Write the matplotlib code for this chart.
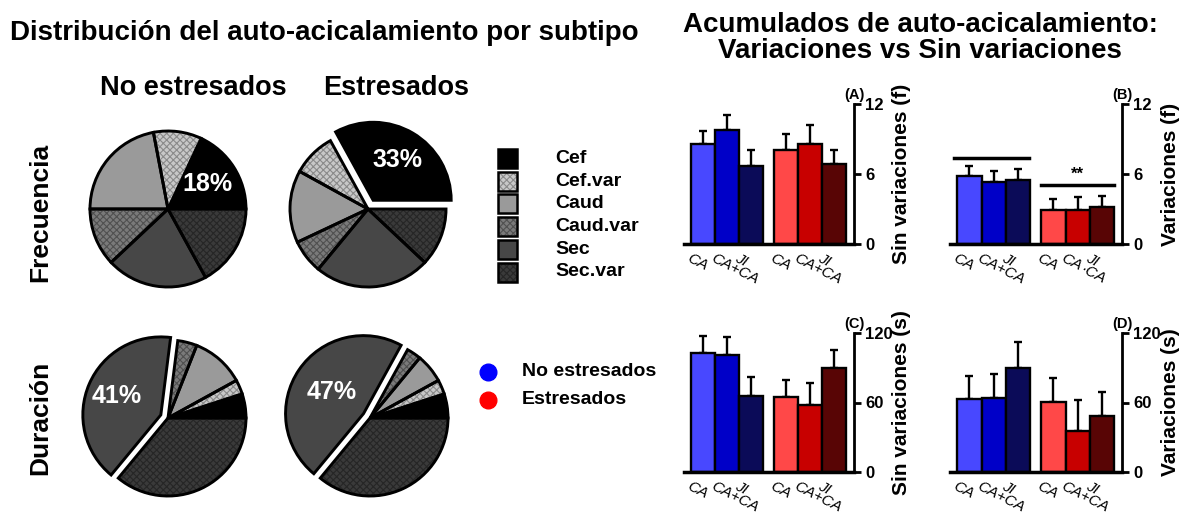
import numpy as np
import matplotlib
matplotlib.use("Agg")
import matplotlib.pyplot as plt
from matplotlib.patches import Wedge, Rectangle
from matplotlib.transforms import ScaledTranslation

plt.rcParams['font.family'] = ['Liberation Sans', 'DejaVu Sans']
plt.rcParams['hatch.linewidth'] = 0.8

# Subtipos de auto-acicalamiento
subtipos = ["Cef", "Cef.var", "Caud", "Caud.var", "Sec", "Sec.var"]
colores = ["#000000", "#c8c8c8", "#9a9a9a", "#7a7a7a", "#474747", "#3a3a3a"]
tramas = [None, "xxxxx", None, "xxxxx", None, "xxxxx"]
color_trama = [None, "#8a8a8a", None, "#505050", None, "#262626"]

# Porcentajes (%) por subtipo
frec_no_estresados = [18, 10, 22, 12, 21, 17]
frec_estresados = [33, 9, 15, 7, 24, 12]
dur_no_estresados = [5, 3, 11, 4, 41, 36]
dur_estresados = [5, 3, 6, 3, 47, 36]

# Acumulados: CA, CA+CA, JI  (media y error)
etiquetas = ["CA", "CA+CA", "JI"]
frec_sin_ne = [8.6, 9.8, 6.7]
frec_sin_ne_err = [1.1, 1.3, 1.4]
frec_sin_e = [8.1, 8.6, 6.9]
frec_sin_e_err = [1.3, 1.6, 1.2]
frec_var_ne = [5.8, 5.3, 5.5]
frec_var_ne_err = [0.9, 1.0, 0.9]
frec_var_e = [2.9, 2.9, 3.2]
frec_var_e_err = [1.0, 1.1, 0.9]
dur_sin_ne = [102.7, 101.3, 65.3]
dur_sin_ne_err = [14.4, 15.3, 16.4]
dur_sin_e = [64.4, 57.9, 89.8]
dur_sin_e_err = [15.3, 19.0, 15.2]
dur_var_ne = [63.0, 64.2, 89.8]
dur_var_ne_err = [19.6, 20.7, 22.1]
dur_var_e = [60.1, 35.7, 48.0]
dur_var_e_err = [20.7, 26.1, 20.7]

azules = ["#4848ff", "#0000c8", "#0b0b58"]
rojos = ["#ff4848", "#c80000", "#580505"]

W, H = 1186, 514
fig = plt.figure(figsize=(W / 100, H / 100), dpi=100)


def caja(x0, y0, ancho, alto):
    # caja en pixeles (origen arriba a la izquierda) -> fraccion de figura
    return [x0 / W, 1 - (y0 + alto) / H, ancho / W, alto / H]


def pastel(cx, cy, valores, idx, sep, r_txt):
    R = 78
    lado = 2.6 * R
    ax = fig.add_axes(caja(cx - lado / 2, cy - lado / 2, lado, lado))
    explode = [sep if i == idx else 0 for i in range(len(valores))]
    wedges, _ = ax.pie(valores, colors=colores, explode=explode, startangle=0,
                       counterclock=True, wedgeprops=dict(linewidth=0))
    for w, tr, tc in zip(wedges, tramas, color_trama):
        if tr:
            ax.add_patch(Wedge(w.center, w.r, w.theta1, w.theta2, facecolor="none",
                               edgecolor=tc, hatch=tr, linewidth=0))
        ax.add_patch(Wedge(w.center, w.r, w.theta1, w.theta2, facecolor="none",
                           edgecolor="black", linewidth=2.1))
    w = wedges[idx]
    ang = np.radians((w.theta1 + w.theta2) / 2)
    ax.text(w.center[0] + r_txt * np.cos(ang), w.center[1] + r_txt * np.sin(ang),
            "%d%%" % valores[idx], color="white", fontsize=18, fontweight="bold",
            ha="center", va="center")
    ax.set_xlim(-1.3, 1.3)
    ax.set_ylim(-1.3, 1.3)
    ax.set_aspect("equal")
    ax.axis("off")


pastel(168, 209, frec_no_estresados, 0, 0, 0.6)
pastel(368, 209, frec_estresados, 0, 0.13, 0.6)
pastel(168, 418, dur_no_estresados, 4, 0.1, 0.62)
pastel(370, 418, dur_estresados, 4, 0.1, 0.5)

# textos generales
fig.text(10 / W, 1 - 33 / H, "Distribución del auto-acicalamiento por subtipo",
         fontsize=20, fontweight="bold", ha="left", va="center")
fig.text(193 / W, 1 - 88 / H, "No estresados", fontsize=19.5, fontweight="bold",
         ha="center", va="center")
fig.text(396 / W, 1 - 88 / H, "Estresados", fontsize=19.5, fontweight="bold",
         ha="center", va="center")
fig.text(40 / W, 1 - 212 / H, "Frecuencia", fontsize=19, fontweight="bold",
         rotation=90, ha="center", va="center")
fig.text(40 / W, 1 - 418 / H, "Duración", fontsize=19, fontweight="bold",
         rotation=90, ha="center", va="center")
fig.text(920 / W, 1 - 38 / H, "Acumulados de auto-acicalamiento:\nVariaciones vs Sin variaciones",
         fontsize=20, fontweight="bold", ha="center", va="center", linespacing=1.05)

# leyendas
leg = fig.add_axes([0, 0, 1, 1])
leg.set_xlim(0, W)
leg.set_ylim(H, 0)
leg.axis("off")
for i, (nom, c, tr, tc) in enumerate(zip(subtipos, colores, tramas, color_trama)):
    y = 158.5 + i * 22.7
    leg.add_patch(Rectangle((498, y - 9.5), 19, 19, facecolor=c, edgecolor="none"))
    if tr:
        leg.add_patch(Rectangle((498, y - 9.5), 19, 19, facecolor="none", edgecolor=tc,
                                hatch=tr, linewidth=0))
    leg.add_patch(Rectangle((498, y - 9.5), 19, 19, facecolor="none", edgecolor="black",
                            linewidth=1.8))
    leg.text(555, y, nom, fontsize=14, fontweight="bold", va="center", ha="left")

for y, c, nom in [(372, "#0000ff", "No estresados"), (400, "#ff0000", "Estresados")]:
    leg.plot([488], [y], "o", color=c, markersize=12)
    leg.text(522, y, nom, fontsize=14, fontweight="bold", va="center", ha="left")


def barras(pos, ne, ne_err, e, e_err, ymax, ylabel, letra, marcas_x=None):
    ax = fig.add_axes(caja(*pos))
    x1 = np.arange(3)
    x2 = np.arange(3) + 3.45
    for x, v, err, cols in [(x1, ne, ne_err, azules), (x2, e, e_err, rojos)]:
        ax.bar(x, v, width=1.0, color=cols, edgecolor="black", linewidth=1.7, zorder=2)
        ax.errorbar(x, v, yerr=[np.zeros(3), err], fmt="none", ecolor="black",
                    elinewidth=1.7, capsize=3, capthick=1.7, zorder=1)
    ax.set_xlim(-0.8, 6.27)
    ax.set_ylim(0, ymax)
    ax.set_yticks([0, ymax / 2, ymax])
    ax.set_yticklabels(["0", "%d" % (ymax / 2), "%d" % ymax])
    for s in ["top", "left"]:
        ax.spines[s].set_visible(False)
    ax.spines["right"].set_linewidth(2)
    ax.spines["bottom"].set_linewidth(2.5)
    ax.spines["bottom"].set_zorder(3)
    ax.yaxis.tick_right()
    ax.yaxis.set_label_position("right")
    ax.tick_params(axis="y", length=5, width=2, labelsize=12, pad=3)
    for t in ax.get_yticklabels():
        t.set_fontweight("bold")
    ax.set_ylabel(ylabel, fontsize=15, fontweight="bold")
    ax.yaxis.set_label_coords(1.225, 0.5)
    xs = np.concatenate([x1, x2])
    labs = marcas_x if marcas_x else etiquetas + etiquetas
    ax.set_xticks(xs)
    ax.set_xticklabels(labs, rotation=-27, ha="left", va="top", rotation_mode="anchor",
                       fontstyle="italic", fontsize=11, linespacing=0.85)
    ax.tick_params(axis="x", length=0, pad=5)
    desp = ScaledTranslation(-9 / 72, 0, fig.dpi_scale_trans)
    for t in ax.get_xticklabels():
        t.set_transform(t.get_transform() + desp)
    ax.text(1.0, 1.015, letra, transform=ax.transAxes, ha="center", va="bottom",
            fontsize=10.5, fontweight="bold")
    return ax


barras((684, 104, 170, 140), frec_sin_ne, frec_sin_ne_err, frec_sin_e, frec_sin_e_err,
       12, "Sin variaciones (f)", "(A)")
axb = barras((950, 104, 172, 140), frec_var_ne, frec_var_ne_err, frec_var_e, frec_var_e_err,
             12, "Variaciones (f)", "(B)",
             marcas_x=["CA", "CA+CA", "JI", "CA", "CA", "JI\n·CA"])
barras((684, 333, 170, 139), dur_sin_ne, dur_sin_ne_err, dur_sin_e, dur_sin_e_err,
       120, "Sin variaciones (s)", "(C)")
barras((950, 333, 172, 139), dur_var_ne, dur_var_ne_err, dur_var_e, dur_var_e_err,
       120, "Variaciones (s)", "(D)")

# comparacion no estresados vs estresados en (B)
sig_alturas = [7.4, 5.1]
axb.plot([-0.62, 2.46], [sig_alturas[0]] * 2, color="black", linewidth=2.5)
axb.plot([2.92, 5.96], [sig_alturas[1]] * 2, color="black", linewidth=2.5)
axb.text(4.45, sig_alturas[1] + 0.25, "**", ha="center", va="bottom", fontsize=12,
         fontweight="bold")

fig.savefig("out.png", dpi=100)
